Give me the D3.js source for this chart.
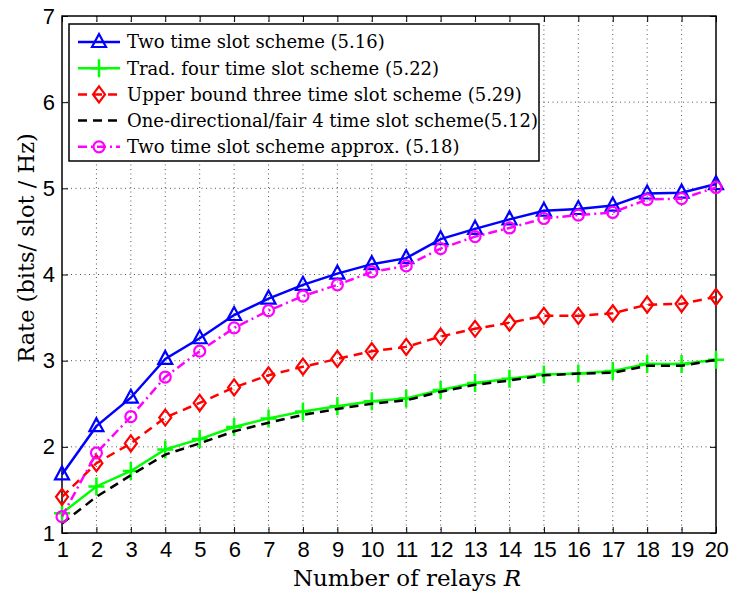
<!DOCTYPE html>
<html><head><meta charset="utf-8">
<script src="https://cdn.jsdelivr.net/npm/d3@7"></script>
<style>body{margin:0;background:#fff}</style>
</head><body>
<script>
const relays = d3.range(1, 21);
const twoSlot = [1.68,2.24,2.57,3.02,3.26,3.53,3.72,3.88,4.01,4.12,4.19,4.41,4.53,4.64,4.74,4.76,4.80,4.94,4.95,5.05];
const tradFour = [1.23,1.54,1.72,1.97,2.09,2.23,2.33,2.41,2.47,2.53,2.56,2.66,2.74,2.79,2.84,2.85,2.88,2.96,2.96,3.01];
const upperThree = [1.42,1.81,2.04,2.34,2.51,2.69,2.83,2.93,3.02,3.11,3.16,3.28,3.37,3.44,3.52,3.52,3.55,3.65,3.66,3.74];
const oneDir = [1.11,1.42,1.67,1.91,2.04,2.18,2.28,2.37,2.44,2.50,2.54,2.64,2.72,2.77,2.83,2.85,2.86,2.94,2.94,3.01];
const twoSlotApprox = [1.19,1.93,2.35,2.81,3.11,3.38,3.58,3.75,3.88,4.03,4.10,4.30,4.44,4.54,4.65,4.69,4.72,4.87,4.88,5.01];
const yTicks = [1,2,3,4,5,6,7];
const legendLabels = ["Two time slot scheme (5.16)","Trad. four time slot scheme (5.22)","Upper bound three time slot scheme (5.29)","One-directional/fair 4 time slot scheme(5.12)","Two time slot scheme approx. (5.18)"];

const W = 733, H = 593;
const L = 62, R = 716, T = 16, B = 533;
const svg = d3.select("body").append("svg").attr("width", W).attr("height", H);
const x = d3.scaleLinear().domain([1, 20]).range([L, R]);
const y = d3.scaleLinear().domain([1, 7]).range([B, T]);

// grid
const grid = svg.append("g").attr("stroke", "#555").attr("stroke-width", 1).attr("stroke-dasharray", "1,3.5");
grid.selectAll(".gx").data(relays.slice(1, -1)).join("line")
  .attr("x1", d => x(d)).attr("x2", d => x(d)).attr("y1", T).attr("y2", B);
grid.selectAll(".gy").data(yTicks.slice(1, -1)).join("line")
  .attr("y1", d => y(d)).attr("y2", d => y(d)).attr("x1", L).attr("x2", R);

// axes (ticks inside)
const tickFont = "'Liberation Sans',Arial,sans-serif";
const xAxis = svg.append("g").attr("transform", `translate(0,${B})`)
  .call(d3.axisBottom(x).tickValues(relays).tickSize(-6).tickPadding(8).tickFormat(d3.format("d")));
const xTop = svg.append("g").attr("transform", `translate(0,${T})`)
  .call(d3.axisTop(x).tickValues(relays).tickSize(-6).tickFormat(""));
const yAxis = svg.append("g").attr("transform", `translate(${L},0)`)
  .call(d3.axisLeft(y).tickValues(yTicks).tickSize(-6).tickPadding(7).tickFormat(d3.format("d")));
const yRight = svg.append("g").attr("transform", `translate(${R},0)`)
  .call(d3.axisRight(y).tickValues(yTicks).tickSize(-6).tickFormat(""));
[xAxis, xTop, yAxis, yRight].forEach(g => {
  g.select(".domain").remove();
  g.selectAll("line").attr("stroke", "#000").attr("stroke-width", 1);
  g.selectAll("text").attr("font-family", tickFont).attr("font-size", 22).attr("fill", "#000");
});
xAxis.selectAll("text").attr("letter-spacing", "-0.5");

svg.append("rect").attr("x", L).attr("y", T).attr("width", R - L).attr("height", B - T)
  .attr("fill", "none").attr("stroke", "#000").attr("stroke-width", 1.5);

// series
const series = [
  {data: twoSlot, color: "#0000ff", dash: null, marker: "tri"},
  {data: tradFour, color: "#00ff00", dash: null, marker: "plus"},
  {data: upperThree, color: "#ff0000", dash: "9,6", marker: "diamond"},
  {data: oneDir, color: "#000000", dash: "9,6", marker: null},
  {data: twoSlotApprox, color: "#ff00ff", dash: "9,4,2,4", marker: "circle"}
];
const line = d3.line().x((d, i) => x(relays[i])).y(d => y(d));

function drawMarker(g, type, color, cx, cy) {
  if (type === "tri") {
    g.append("path").attr("d", `M${cx},${cy-8}L${cx+7},${cy+5}L${cx-7},${cy+5}Z`)
      .attr("fill", "none").attr("stroke", color).attr("stroke-width", 2.2);
  } else if (type === "plus") {
    g.append("path").attr("d", `M${cx-8},${cy}H${cx+8}M${cx},${cy-9}V${cy+9}`)
      .attr("stroke", color).attr("stroke-width", 2.5);
  } else if (type === "diamond") {
    g.append("path").attr("d", `M${cx},${cy-8}L${cx+6},${cy}L${cx},${cy+8}L${cx-6},${cy}Z`)
      .attr("fill", "none").attr("stroke", color).attr("stroke-width", 2.2);
  } else if (type === "circle") {
    g.append("circle").attr("cx", cx).attr("cy", cy).attr("r", 5.5)
      .attr("fill", "none").attr("stroke", color).attr("stroke-width", 2.2);
  }
}

const plot = svg.append("g");
series.forEach(s => {
  plot.append("path").datum(s.data).attr("d", line).attr("fill", "none")
    .attr("stroke", s.color).attr("stroke-width", 2.5)
    .attr("stroke-dasharray", s.dash);
  if (s.marker) s.data.forEach((v, i) => drawMarker(plot, s.marker, s.color, x(relays[i]), y(v)));
});

// legend
const lg = svg.append("g");
lg.append("rect").attr("x", 69).attr("y", 24).attr("width", 470).attr("height", 137)
  .attr("fill", "#fff").attr("stroke", "#000").attr("stroke-width", 1.5);
const serif = "'DejaVu Serif','Liberation Serif',serif";
series.forEach((s, i) => {
  const cy = 42 + i * 26.2;
  lg.append("line").attr("x1", 78).attr("x2", 120).attr("y1", cy).attr("y2", cy)
    .attr("stroke", s.color).attr("stroke-width", 2.5).attr("stroke-dasharray", s.dash);
  if (s.marker) drawMarker(lg, s.marker, s.color, 99, cy);
  lg.append("text").attr("x", 127).attr("y", cy).attr("dy", "0.35em")
    .attr("font-family", serif).attr("font-size", 18).text(legendLabels[i]);
});

// axis labels
const xl = svg.append("text").attr("x", 407).attr("y", 586).attr("text-anchor", "middle")
  .attr("font-family", serif).attr("font-size", 23);
xl.append("tspan").text("Number of relays ");
xl.append("tspan").attr("font-style", "italic").text("R");

svg.append("text").attr("transform", "translate(34,248) rotate(-90)").attr("text-anchor", "middle")
  .attr("font-family", serif).attr("font-size", 22.5).text("Rate (bits/ slot / Hz)");
</script>
</body></html>
